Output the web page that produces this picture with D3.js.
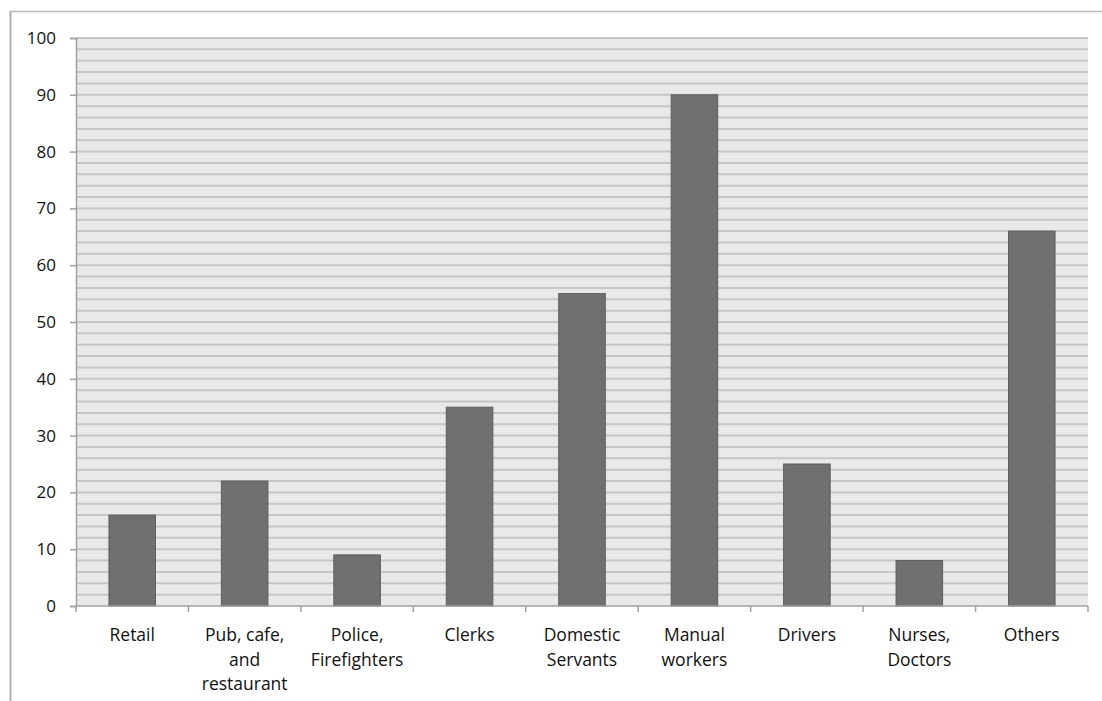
<!DOCTYPE html>
<html>
<head>
<meta charset="utf-8">
<script src="https://cdn.jsdelivr.net/npm/d3@7"></script>
<style>
  html, body { margin: 0; padding: 0; background: #fff; }
  svg text { font-family: "Open Sans", "Noto Sans", sans-serif; fill: #111; }
</style>
</head>
<body>
<svg id="chart" width="1102" height="701"></svg>
<script>
// Occupation categories and counts
const categories = [
  ["Retail"],
  ["Pub, cafe,", "and", "restaurant"],
  ["Police,", "Firefighters"],
  ["Clerks"],
  ["Domestic", "Servants"],
  ["Manual", "workers"],
  ["Drivers"],
  ["Nurses,", "Doctors"],
  ["Others"]
];
const values = [16, 22, 9, 35, 55, 90, 25, 8, 66];
const yTicks = [0, 10, 20, 30, 40, 50, 60, 70, 80, 90, 100];
const gridStep = 2;

(function drawChart() {
  const svg = d3.select("#chart");
  const plotLeft = 76, plotRight = 1088, plotTop = 38, plotBottom = 606;

  // outer chart frame (top and left edges visible)
  svg.append("line").attr("x1", 10).attr("x2", 1102).attr("y1", 11.5).attr("y2", 11.5)
    .attr("stroke", "#b8b8b8").attr("stroke-width", 1.5);
  svg.append("line").attr("x1", 10.5).attr("x2", 10.5).attr("y1", 11).attr("y2", 701)
    .attr("stroke", "#b0b0b0").attr("stroke-width", 2);

  const idx = categories.map((d, i) => i);
  const x = d3.scaleBand().domain(idx).range([plotLeft, plotRight]).padding(0);
  const y = d3.scaleLinear().domain([0, 100]).range([plotBottom, plotTop]);

  // plot background
  svg.append("rect").attr("x", plotLeft).attr("y", plotTop)
    .attr("width", plotRight - plotLeft).attr("height", plotBottom - plotTop)
    .attr("fill", "#e9e9e9");

  // gridlines every 2 units
  const gridVals = d3.range(gridStep, 100 + 0.001, gridStep);
  svg.append("g").selectAll("line").data(gridVals).join("line")
    .attr("x1", plotLeft).attr("x2", plotRight)
    .attr("y1", d => y(d)).attr("y2", d => y(d))
    .attr("stroke", "#c6c6c6").attr("stroke-width", 2);

  // bars
  const barFrac = 0.414;
  svg.append("g").selectAll("rect").data(values).join("rect")
    .attr("x", (d, i) => x(i) + x.bandwidth() * (1 - barFrac) / 2)
    .attr("width", x.bandwidth() * barFrac)
    .attr("y", d => y(d))
    .attr("height", d => y(0) - y(d))
    .attr("fill", "#707070")
    .attr("stroke", "#5e5e5e")
    .attr("stroke-width", 1);

  // y axis
  const yAxis = d3.axisLeft(y).tickValues(yTicks).tickSize(6).tickPadding(14);
  const gy = svg.append("g").attr("transform", `translate(${plotLeft},0)`).call(yAxis);
  gy.select(".domain").attr("stroke", "#a0a0a0").attr("stroke-width", 1.5);
  gy.selectAll(".tick line").attr("stroke", "#a0a0a0").attr("stroke-width", 1.5);
  gy.selectAll(".tick text").style("font-size", "17px").attr("fill", "#111")
    .style("font-family", "'Open Sans', sans-serif");

  // x axis baseline with ticks at category boundaries
  const xg = svg.append("g");
  xg.append("line").attr("x1", plotLeft).attr("x2", plotRight)
    .attr("y1", plotBottom).attr("y2", plotBottom)
    .attr("stroke", "#a0a0a0").attr("stroke-width", 1.5);
  const bounds = idx.map(i => x(i)).concat([x(idx.length - 1) + x.bandwidth()]);
  xg.selectAll("line.tk").data(bounds).join("line").attr("class", "tk")
    .attr("x1", d => d).attr("x2", d => d)
    .attr("y1", plotBottom).attr("y2", plotBottom + 6)
    .attr("stroke", "#a0a0a0").attr("stroke-width", 1.5);

  // category labels
  const lab = xg.selectAll("text.cat").data(categories).join("text").attr("class", "cat")
    .attr("text-anchor", "middle")
    .style("font-size", "17.5px");
  lab.each(function(lines, i) {
    const t = d3.select(this);
    lines.forEach((s, j) => {
      t.append("tspan").attr("x", x(i) + x.bandwidth() / 2)
        .attr("y", 641 + j * 24.5).text(s);
    });
  });
})();
</script>
</body>
</html>
